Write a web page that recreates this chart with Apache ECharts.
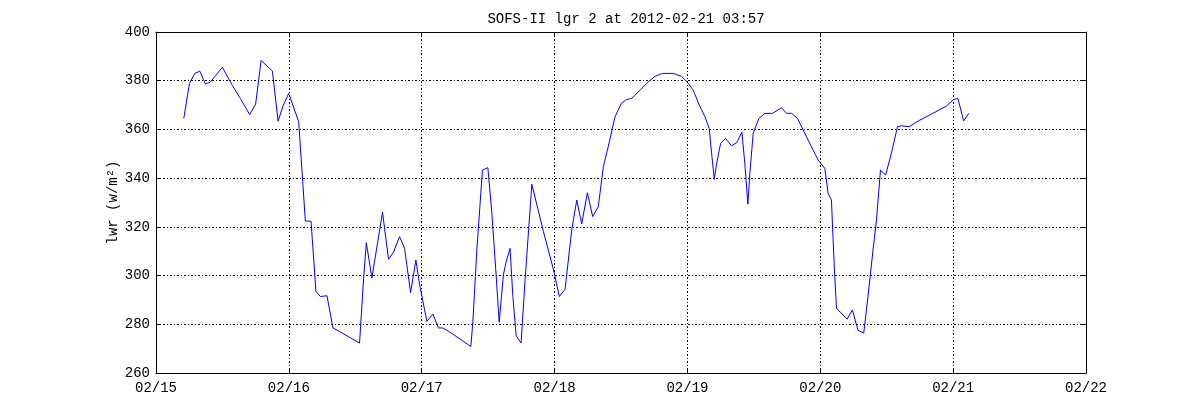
<!DOCTYPE html>
<html>
<head>
<meta charset="utf-8">
<script src="https://cdn.jsdelivr.net/npm/echarts@6/dist/echarts.min.js"></script>
<style>
html,body{margin:0;padding:0;background:#fff;}
#chart{width:1200px;height:420px;}
</style>
</head>
<body>
<div id="chart"></div>
<script>
// Time in days since 2012-02-15 00:00
const dayOffsets = [
  0.209,0.252,0.292,0.330,0.372,0.410,0.500,0.573,0.635,0.705,0.750,0.791,0.876,0.919,0.956,0.999,
  1.074,1.124,1.167,1.204,1.237,1.287,1.332,1.380,1.532,1.562,1.583,1.625,1.705,1.750,1.788,1.833,
  1.871,1.916,1.956,1.983,2.039,2.084,2.126,2.159,2.214,2.370,2.385,2.415,2.457,2.498,2.528,2.560,
  2.583,2.615,2.633,2.665,2.686,2.711,2.748,2.778,2.829,2.916,2.991,3.036,3.079,3.129,3.167,3.204,
  3.247,3.287,3.329,3.367,3.404,3.455,3.505,3.543,3.580,3.643,3.705,3.756,3.813,3.893,3.956,3.998,
  4.044,4.089,4.132,4.164,4.182,4.202,4.220,4.250,4.287,4.332,4.370,4.410,4.432,4.455,4.470,4.495,
  4.538,4.583,4.641,4.708,4.746,4.784,4.829,4.896,4.984,5.034,5.059,5.084,5.096,5.109,5.122,5.202,
  5.242,5.284,5.327,5.359,5.397,5.423,5.453,5.492,5.535,5.581,5.611,5.668,5.748,5.848,5.949,6.004,
  6.036,6.079,6.119
];
const lwrValues = [
  364.5,378.9,383.0,383.9,378.6,379.5,385.5,378.2,372.7,366.1,370.4,388.3,384.0,363.4,369.6,374.8,
  363.1,322.4,322.3,293.5,291.4,291.7,278.5,277.1,272.3,298.2,313.5,299.0,326.0,306.7,309.6,316.0,
  311.2,293.0,306.4,296.6,281.2,284.2,278.5,278.5,276.7,270.9,281.2,310.5,343.3,344.3,325.6,300.3,
  280.8,300.3,305.1,311.2,291.4,275.3,272.3,298.2,337.5,318.1,302.6,291.4,294.4,318.7,331.0,321.2,
  334.0,324.2,328.3,344.7,352.9,365.2,370.9,372.3,372.7,376.1,379.5,381.8,383.0,383.0,381.8,379.5,
  376.1,370.0,365.2,360.4,350.2,339.5,346.1,354.3,356.3,353.3,354.5,358.8,346.1,329.3,342.0,358.4,
  364.5,366.6,366.6,368.9,366.6,366.6,364.5,357.0,347.4,344.0,333.8,331.0,315.3,299.6,286.6,282.1,
  285.9,277.5,276.4,291.4,310.5,322.8,343.3,341.3,350.2,361.1,361.5,361.1,363.8,366.6,369.6,372.3,
  372.7,363.5,366.6
];
const xTickLabels = ["02/15","02/16","02/17","02/18","02/19","02/20","02/21","02/22"];
const yTicks = [260,280,300,320,340,360,380,400];
const titleText = "SOFS-II lgr 2 at 2012-02-21 03:57";
const yAxisName = "lwr (w/m²)";

const FONT = "Liberation Mono";
const gridStyle = {show:true, lineStyle:{color:'#000', width:1, type:[2,2,1,2]}};

const chart = echarts.init(document.getElementById('chart'), null, {renderer:'canvas'});
chart.setOption({
  animation:false,
  backgroundColor:'#fff',
  title:{text:titleText, left:621, textAlign:'center', top:7,
    textStyle:{fontFamily:FONT, fontSize:14, fontWeight:'normal', color:'#000'}},
  grid:{left:156, right:114, top:32, bottom:47, containLabel:false},
  xAxis:[{
    type:'value', min:0, max:7, interval:1, position:'bottom',
    axisLine:{show:true, onZero:false, lineStyle:{color:'#000', width:1}},
    axisTick:{show:true, inside:true, length:5, lineStyle:{color:'#000'}},
    axisLabel:{fontFamily:FONT, fontSize:14, color:'#000', margin:8,
      formatter:(v)=>xTickLabels[Math.round(v)]},
    splitLine:gridStyle
  },{
    type:'value', min:0, max:7, interval:1, position:'top',
    axisLine:{show:true, onZero:false, lineStyle:{color:'#000', width:1}},
    axisTick:{show:true, inside:true, length:5, lineStyle:{color:'#000'}},
    axisLabel:{show:false}, splitLine:{show:false}
  }],
  yAxis:[{
    type:'value', min:260, max:400, interval:20, position:'left',
    axisLine:{show:true, onZero:false, lineStyle:{color:'#000', width:1}},
    axisTick:{show:true, inside:true, length:5, lineStyle:{color:'#000'}},
    axisLabel:{fontFamily:FONT, fontSize:14, color:'#000', margin:6,
      formatter:(v)=> yTicks.includes(v) ? String(v) : ''},
    splitLine:gridStyle,
    name:yAxisName, nameLocation:'middle', nameGap:36, nameRotate:90,
    nameMoveOverlap:false,
    nameTextStyle:{fontFamily:FONT, fontSize:14, color:'#000'}
  },{
    type:'value', min:260, max:400, interval:20, position:'right',
    axisLine:{show:true, onZero:false, lineStyle:{color:'#000', width:1}},
    axisTick:{show:true, inside:true, length:5, lineStyle:{color:'#000'}},
    axisLabel:{show:false}, splitLine:{show:false}
  }],
  series:[{
    type:'line', xAxisIndex:0, yAxisIndex:0,
    data: dayOffsets.map((d,i)=>[d, lwrValues[i]]),
    showSymbol:false, symbol:'none',
    lineStyle:{color:'#0000ff', width:1},
    itemStyle:{color:'#0000ff'}
  }]
});
</script>
</body>
</html>
